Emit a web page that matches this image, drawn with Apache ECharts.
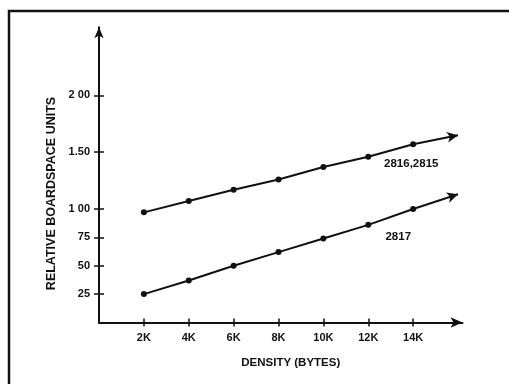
<!DOCTYPE html>
<html>
<head>
<meta charset="utf-8">
<script src="https://cdn.jsdelivr.net/npm/echarts@6/dist/echarts.min.js"></script>
<style>html,body{margin:0;padding:0;background:#fff}#c{width:509px;height:384px}</style>
</head>
<body>
<div id="c"></div>
<script>
// Data
const xValues = [2, 4, 6, 8, 10, 12, 14];          // density, K bytes
const series2816 = [97, 107, 117, 126, 137, 146, 157]; // 2816,2815
const series2817 = [25, 37, 50, 62, 74, 86, 100];      // 2817
const arrowX = 16;
const arrow2816 = 165;
const arrow2817 = 113;
const xTickValues = [2, 4, 6, 8, 10, 12, 14];
const xTickLabels = ['2K', '4K', '6K', '8K', '10K', '12K', '14K'];
const yTickValues = [25, 50, 75, 100, 150, 200];
const yTickLabels = ['25', '50', '75', '1 00', '1.50', '2 00'];
const seriesNames = ['2816,2815', '2817'];
const xTitle = 'DENSITY (BYTES)';
const yTitle = 'RELATIVE BOARDSPACE UNITS';

const INK = '#111';
const FONT = '"Liberation Sans", Arial, sans-serif';

const GRID = { left: 99, right: 46.5, top: 27.3, bottom: 61.5 };
const GW = 509 - GRID.left - GRID.right;
const GH = 384 - GRID.top - GRID.bottom;

const xLab = v => { const i = xTickValues.indexOf(v); return i >= 0 ? xTickLabels[i] : ''; };
const yLab = v => { const i = yTickValues.indexOf(v); return i >= 0 ? yTickLabels[i] : ''; };

function lineSeries(name, vals, arrowY, labelIdx, labelOffset) {
  return {
    name: name,
    type: 'line',
    data: xValues.map((x, i) => {
      const d = { value: [x, vals[i]] };
      if (i === labelIdx) {
        d.label = {
          show: true, formatter: name, position: 'inside', offset: labelOffset,
          color: INK, fontFamily: FONT, fontWeight: 'bold', fontSize: 11.5
        };
      }
      return d;
    }),
    symbol: 'circle',
    symbolSize: 6,
    itemStyle: { color: INK },
    lineStyle: { color: INK, width: 2 },
    animation: false,
    markLine: {
      silent: true,
      animation: false,
      symbol: ['none', 'arrow'],
      symbolSize: [8, 11],
      label: { show: false },
      lineStyle: { color: INK, width: 2, type: 'solid' },
      data: [[{ coord: [xValues[xValues.length - 1], vals[vals.length - 1]] }, { coord: [arrowX, arrowY] }]]
    }
  };
}

const chart = echarts.init(document.getElementById('c'), null, { renderer: 'canvas' });
chart.setOption({
  backgroundColor: '#fff',
  animation: false,
  grid: Object.assign({ containLabel: false }, GRID),
  xAxis: [{
    type: 'value', min: 0, max: 16.2, position: 'bottom',
    splitLine: { show: false },
    axisLine: { show: true, onZero: false, lineStyle: { color: INK, width: 2 }, symbol: ['none', 'arrow'], symbolSize: [8, 12] },
    axisTick: { show: true, length: 4, lineStyle: { color: INK, width: 1.5 }, customValues: xTickValues },
    axisLabel: { show: true, margin: 10, color: INK, fontFamily: FONT, fontWeight: 'bold', fontSize: 11,
      customValues: xTickValues, formatter: xLab },
    name: xTitle, nameLocation: 'middle', nameGap: 34,
    nameTextStyle: { color: INK, fontFamily: FONT, fontWeight: 'bold', fontSize: 11.5, padding: [0, 0, 0, 20] }
  }, {
    // duplicate axis moved onto the bottom line to make the ticks cross the axis
    type: 'value', min: 0, max: 16.2, position: 'top', offset: -GH,
    splitLine: { show: false }, axisLine: { show: false, onZero: false },
    axisTick: { show: true, inside: false, length: 4, lineStyle: { color: INK, width: 1.5 }, customValues: xTickValues },
    axisLabel: { show: false }
  }],
  yAxis: [{
    type: 'value', min: 0, max: 260, position: 'left',
    splitLine: { show: false },
    axisLine: { show: true, onZero: false, lineStyle: { color: INK, width: 2 }, symbol: ['none', 'arrow'], symbolSize: [7, 11] },
    axisTick: { show: true, length: 5, lineStyle: { color: INK, width: 1.5 }, customValues: yTickValues },
    axisLabel: { show: true, margin: 9, color: INK, fontFamily: FONT, fontWeight: 'bold', fontSize: 11,
      customValues: yTickValues, formatter: yLab }
  }, {
    type: 'value', min: 0, max: 260, position: 'right', offset: -GW,
    splitLine: { show: false }, axisLine: { show: false, onZero: false },
    axisTick: { show: true, inside: false, length: 5, lineStyle: { color: INK, width: 1.5 }, customValues: yTickValues },
    axisLabel: { show: false }
  }],
  graphic: [
    { type: 'polyline', shape: { points: [[9, 400], [9, 11], [520, 11]] }, style: { stroke: INK, lineWidth: 2.5, fill: null } },
    { type: 'text', x: 51.5, y: 193.5, rotation: Math.PI / 2,
      style: { text: yTitle, align: 'center', verticalAlign: 'middle', fill: INK,
        font: 'bold 12.5px ' + FONT } }
  ],
  series: [
    lineSeries(seriesNames[0], series2816, arrow2816, 5, [43, 7]),
    lineSeries(seriesNames[1], series2817, arrow2817, 5, [30, 12])
  ]
});
</script>
</body>
</html>
